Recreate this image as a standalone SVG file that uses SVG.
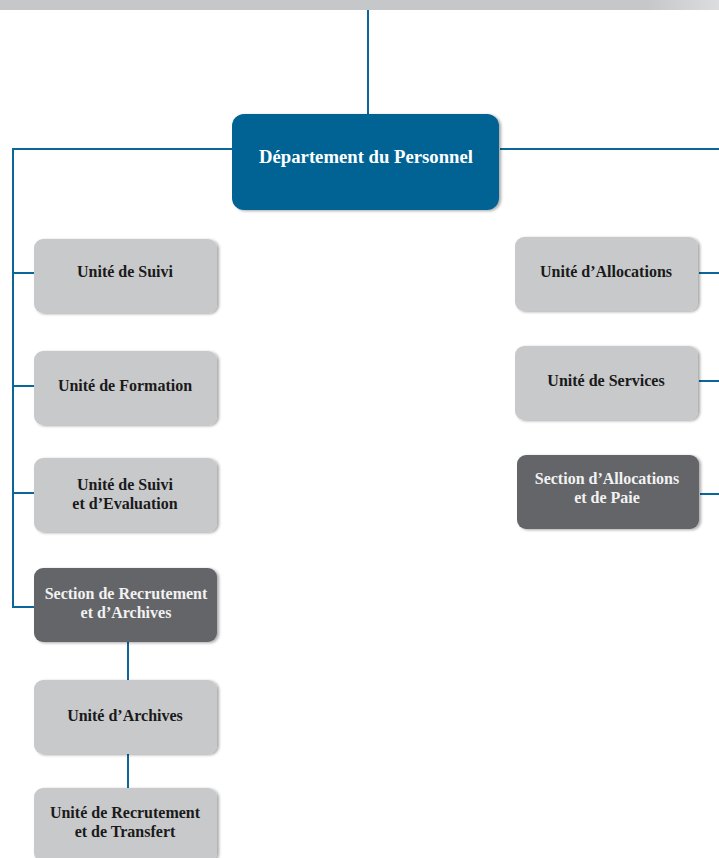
<svg xmlns="http://www.w3.org/2000/svg" width="719" height="858" viewBox="0 0 719 858">
<defs>
<linearGradient id="bar" x1="0" y1="0" x2="1" y2="0">
<stop offset="0" stop-color="#c6c7c9"/><stop offset="0.9" stop-color="#c6c7c9"/><stop offset="1" stop-color="#dcdddf"/>
</linearGradient>
<filter id="sh" x="-5%" y="-5%" width="115%" height="115%">
<feGaussianBlur in="SourceAlpha" stdDeviation="1.5"/>
<feOffset dx="2" dy="1"/>
<feComponentTransfer><feFuncA type="linear" slope="0.35"/></feComponentTransfer>
<feMerge><feMergeNode/><feMergeNode in="SourceGraphic"/></feMerge>
</filter>
<style>
.ln{stroke:#0b679b;stroke-width:2;fill:none}
.unit{fill:#c8c9cb;filter:url(#sh)}
.sec{fill:#646567;filter:url(#sh)}
.main{fill:#046394;filter:url(#sh)}
text{font-family:"Liberation Serif","Times New Roman",serif;font-weight:bold;text-anchor:middle}
.tu{font-size:16px;fill:#1a1a1a}
.ts{font-size:16px;fill:#f2f2f2}
.tm{font-size:18.7px;fill:#ffffff}
</style>
</defs>
<rect x="0" y="0" width="719" height="10" fill="url(#bar)"/>
<g id="connectors">
<path class="ln" d="M368 10V114"/>
<path class="ln" d="M232 149H13V607H34"/>
<path class="ln" d="M13 273H34M13 386H34M13 493H34"/>
<path class="ln" d="M500 149H719"/>
<path class="ln" d="M699 273H719M699 381H719M700 494H719"/>
<path class="ln" d="M128 642V680M128 754V788"/>
</g>
<g id="dept"><rect class="main" x="232" y="114" width="267" height="96" rx="12"/><text class="tm" x="366" y="163">Département du Personnel</text></g>
<g id="suivi"><rect class="unit" x="34" y="239" width="183" height="74" rx="9"/><text class="tu" x="125" y="277">Unité de Suivi</text></g>
<g id="formation"><rect class="unit" x="34" y="351" width="183" height="74" rx="9"/><text class="tu" x="125" y="391">Unité de Formation</text></g>
<g id="evaluation"><rect class="unit" x="34" y="458" width="183" height="74" rx="9"/><text class="tu" x="125" y="490">Unité de Suivi</text><text class="tu" x="125" y="509">et d’Evaluation</text></g>
<g id="recrutement-section"><rect class="sec" x="34" y="568" width="183" height="74" rx="9"/><text class="ts" x="126" y="599">Section de Recrutement</text><text class="ts" x="126" y="618">et d’Archives</text></g>
<g id="archives"><rect class="unit" x="34" y="680" width="183" height="74" rx="9"/><text class="tu" x="125" y="721">Unité d’Archives</text></g>
<g id="transfert"><rect class="unit" x="34" y="788" width="183" height="74" rx="9"/><text class="tu" x="125" y="818">Unité de Recrutement</text><text class="tu" x="125" y="837">et de Transfert</text></g>
<g id="allocations"><rect class="unit" x="515" y="237" width="183" height="74" rx="9"/><text class="tu" x="606" y="277">Unité d’Allocations</text></g>
<g id="services"><rect class="unit" x="515" y="346" width="183" height="74" rx="9"/><text class="tu" x="606" y="386">Unité de Services</text></g>
<g id="paie-section"><rect class="sec" x="517" y="455" width="182" height="74" rx="9"/><text class="ts" x="607" y="484">Section d’Allocations</text><text class="ts" x="607" y="503">et de Paie</text></g>
</svg>
